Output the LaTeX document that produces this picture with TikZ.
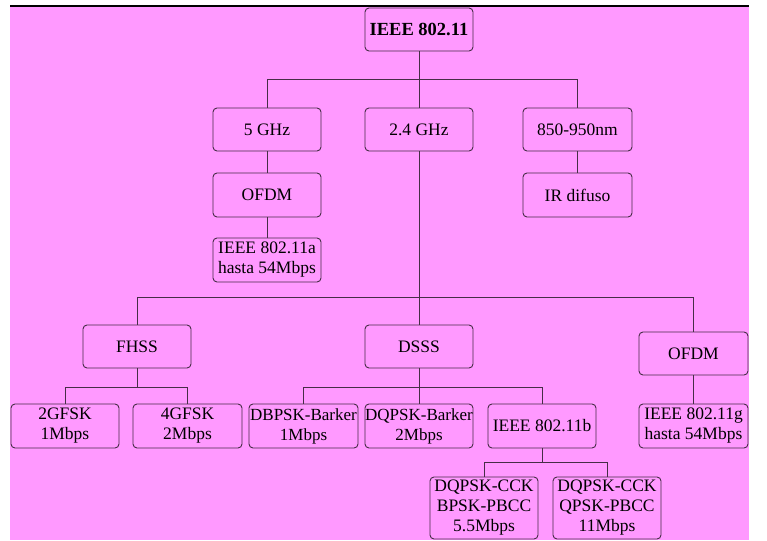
\documentclass[tikz,border=0pt]{standalone}
\usepackage{fontspec}
\setmainfont{Liberation Serif}
\definecolor{bgpink}{RGB}{255,153,255}
\definecolor{edgecol}{RGB}{70,45,70}
\begin{document}
\begin{tikzpicture}[x=1pt,y=-1pt,
  box/.style={draw=edgecol,line width=0.9pt,rounded corners=4pt,inner sep=0pt,
    minimum width=108pt,minimum height=43pt,align=center,
    font=\fontsize{17.5}{20}\selectfont},
  link/.style={draw=edgecol,line width=0.9pt}]
\useasboundingbox (0,0) rectangle (767,540);
\fill[bgpink] (10,7) rectangle (749,540);
\draw[line width=1.6pt,black] (10,6.2) -- (749,6.2);
% nodes
\node[box,font=\fontsize{18.5}{20}\selectfont\bfseries] (root) at (419,29.5) {IEEE 802.11};
\node[box] (g5) at (267,129.5) {5 GHz};
\node[box] (g24) at (419,129.5) {2.4 GHz};
\node[box,minimum width=109pt] (nm) at (577.5,129.5) {850-950nm};
\node[box,minimum height=44pt] (ofdmA) at (267,195) {OFDM};
\node[box,minimum width=109pt,minimum height=44pt] (ir) at (577.5,195) {IR difuso};
\node[box,minimum height=44pt] (a) at (267,260) {IEEE 802.11a\\hasta 54Mbps};
\node[box] (fhss) at (137,346.5) {FHSS};
\node[box] (dsss) at (419,346.5) {DSSS};
\node[box,minimum width=109pt] (ofdmG) at (693.5,353.5) {OFDM};
\node[box,minimum height=44pt] (gfsk2) at (65,426) {2GFSK\\1Mbps};
\node[box,minimum width=109pt,minimum height=44pt] (gfsk4) at (187.5,426) {4GFSK\\2Mbps};
\node[box,minimum width=109pt,minimum height=44pt,font=\fontsize{17}{20}\selectfont] (dbpsk) at (303.5,426) {DBPSK-Barker\\1Mbps};
\node[box,minimum height=44pt,font=\fontsize{17}{20}\selectfont] (dqpsk) at (419,426) {DQPSK-Barker\\2Mbps};
\node[box,minimum height=44pt] (b) at (542,426) {IEEE 802.11b};
\node[box,minimum width=109pt,minimum height=44pt] (g) at (693.5,426) {IEEE 802.11g\\hasta 54Mbps};
\node[box,minimum height=62pt] (cck1) at (484,508) {DQPSK-CCK\\BPSK-PBCC\\5.5Mbps};
\node[box,minimum height=62pt] (cck2) at (607,508) {DQPSK-CCK\\QPSK-PBCC\\11Mbps};
% junctions
\coordinate (j1) at (419,79);
\coordinate (j2) at (419,297);
\coordinate (j3) at (137,387);
\coordinate (j4) at (419,387);
\coordinate (j5) at (542,462);
% connectors
\draw[link] (root) -- (j1);
\draw[link] (j1) -| (g5);
\draw[link] (j1) -- (g24);
\draw[link] (j1) -| (nm);
\draw[link] (g5) -- (ofdmA);
\draw[link] (ofdmA) -- (a);
\draw[link] (nm) -- (ir);
\draw[link] (g24) -- (j2);
\draw[link] (j2) -| (fhss);
\draw[link] (j2) -- (dsss);
\draw[link] (j2) -| (ofdmG);
\draw[link] (ofdmG) -- (g);
\draw[link] (fhss) -- (j3);
\draw[link] (j3) -| (gfsk2);
\draw[link] (j3) -| (gfsk4);
\draw[link] (dsss) -- (j4);
\draw[link] (j4) -| (dbpsk);
\draw[link] (j4) -- (dqpsk);
\draw[link] (j4) -| (b);
\draw[link] (b) -- (j5);
\draw[link] (j5) -| (cck1);
\draw[link] (j5) -| (cck2);
\end{tikzpicture}
\end{document}
